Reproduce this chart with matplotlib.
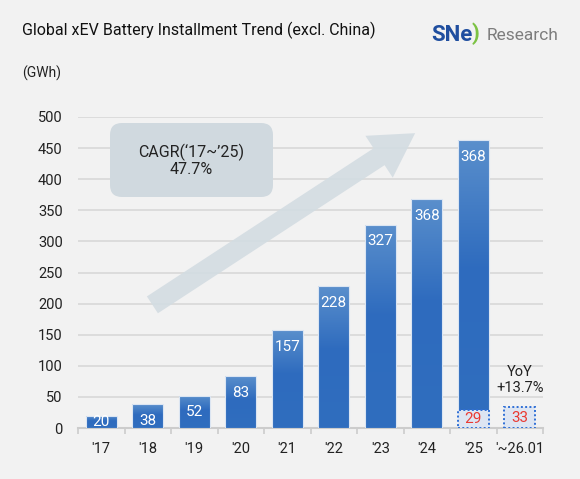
import matplotlib
matplotlib.use('Agg')
import matplotlib.pyplot as plt
import numpy as np
from matplotlib.colors import LinearSegmentedColormap
from matplotlib.patches import FancyBboxPatch
from matplotlib.transforms import IdentityTransform

plt.rcParams['font.family'] = ['Roboto', 'DejaVu Sans']

# ----------------------------------------------------------------------
# Data

years = ["'17", "'18", "'19", "'20", "'21", "'22", "'23", "'24", "'25", "'~26.01"]
installed = [20, 38, 52, 83, 157, 228, 327, 368, 463]
bar_labels = ['20', '38', '52', '83', '157', '228', '327', '368', '368']
jan_pos = [8, 9]
jan_values = [29, 33]
yticks = list(range(0, 501, 50))

# ----------------------------------------------------------------------

W, H = 580, 479
BG = '#f2f2f2'

fig = plt.figure(figsize=(W / 100, H / 100), dpi=100, facecolor=BG)
ax = fig.add_axes([78 / W, 1 - 428 / H, (543 - 78) / W, (428 - 117) / H])
ax.set_facecolor(BG)

x = np.arange(len(installed))
width = 0.66

# Solid bars, then a vertical gradient clipped to each one.
bars = ax.bar(x, installed, width=width, color='#2f6dbf', zorder=3)
cmap = LinearSegmentedColormap.from_list(
    'bar', [(0, '#306ebf'), (0.55, '#2e6bbe'), (1, '#5a8fcc')])
grad = np.linspace(0, 1, 256).reshape(-1, 1)
for b in bars:
    im = ax.imshow(grad, extent=[b.get_x(), b.get_x() + b.get_width(), 0, b.get_height()],
                   origin='lower', cmap=cmap, aspect='auto', zorder=3.2)
    im.set_clip_path(b)
ax.bar(x, installed, width=width, fill=False, edgecolor='#dbe5f2', linewidth=0.8, zorder=4)

# Value labels near the top of each bar.
for xi, v, s in zip(x, installed, bar_labels):
    ax.text(xi, max(v - 27, 10), s, ha='center', va='center', color='white',
            fontsize=11, zorder=5)

# January boxes, dotted.
ax.bar(jan_pos, jan_values, width=width, facecolor='#dde5f2', edgecolor='#2f6fd6',
       linestyle=(0, (1, 1.2)), linewidth=1.4, zorder=5)
for xi, v in zip(jan_pos, jan_values):
    ax.text(xi, v / 2, str(v), ha='center', va='center', color='#ea3a33',
            fontsize=11, zorder=6)

ax.text(9, 77, 'YoY\n+13.7%', ha='center', va='center', fontsize=10.5,
        color='#222222', linespacing=1.15)

# Growth arrow.
ax.annotate('', xy=(6.75, 474), xytext=(1.1, 198),
            arrowprops=dict(arrowstyle='simple,tail_width=1.45,head_width=3.6,head_length=3.1',
                            mutation_scale=10, color='#d3dce2', alpha=0.9,
                            shrinkA=0, shrinkB=0, lw=0),
            zorder=2, annotation_clip=False)

# CAGR box (pixel placement).
box = FancyBboxPatch((110 + 12, H - 197 + 12), 163 - 24, 74 - 24,
                     boxstyle='round,pad=12,rounding_size=12',
                     transform=IdentityTransform(), facecolor='#d0d9df',
                     edgecolor='none', zorder=2.5)
fig.add_artist(box)
fig.text(191 / W, 1 - 160 / H, "CAGR(\u201817~\u201925)\n47.7%", ha='center', va='center',
         fontsize=11.5, color='#222222', linespacing=1.1, zorder=3)

# Axes styling
ax.set_xlim(-0.5, 9.5)
ax.set_ylim(0, 500)
ax.set_yticks(yticks)
ax.set_xticks(x.tolist() + [9])
ax.set_xticklabels(years)
ax.set_xticks(np.arange(-0.5, 9.6, 1), minor=True)
ax.yaxis.grid(True, color='#d8d8d8', linewidth=1.2)
ax.set_axisbelow(True)
for side in ['top', 'right', 'left']:
    ax.spines[side].set_visible(False)
ax.spines['bottom'].set_color('#cccccc')
ax.spines['bottom'].set_linewidth(1.5)
ax.tick_params(axis='y', length=0, pad=11, labelsize=10.5, labelcolor='#222222')
ax.tick_params(axis='x', which='major', length=0, pad=10, labelsize=10.5, labelcolor='#222222')
ax.tick_params(axis='x', which='minor', length=4, width=1.2, color='#cccccc')

# Titles and logo
fig.text(22 / W, 1 - 30 / H, 'Global xEV Battery Installment Trend (excl. China)',
         ha='left', va='center', fontsize=11.5, color='#111111')
fig.text(22 / W, 1 - 73 / H, '(GWh)', ha='left', va='center', fontsize=10, color='#222222')
fig.text(431 / W, 1 - 35 / H, 'SNe', ha='left', va='center', fontsize=16,
         fontweight='bold', color='#1f4e9f')
fig.text(472 / W, 1 - 34 / H, ')', ha='left', va='center', fontsize=16,
         fontweight='bold', color='#7cc243')
fig.text(487 / W, 1 - 35 / H, 'Research', ha='left', va='center', fontsize=12.5,
         color='#7d7d7d')

fig.savefig('out.png', dpi=100, facecolor=BG)
